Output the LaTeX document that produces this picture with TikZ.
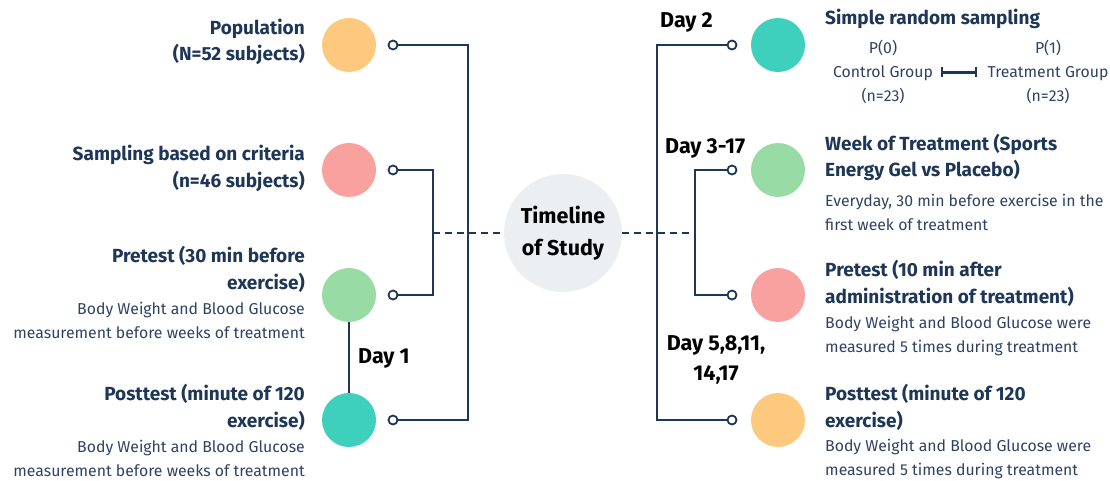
\documentclass[tikz,border=0pt]{standalone}
\usepackage{fontspec}
\setmainfont{Fira Sans}
\usetikzlibrary{arrows.meta}
\definecolor{navy}{HTML}{1E3658}
\definecolor{bodytext}{HTML}{2E4263}
\definecolor{peach}{HTML}{FDC97E}
\definecolor{rose}{HTML}{F9A19F}
\definecolor{mint}{HTML}{99DBA4}
\definecolor{teal}{HTML}{3ECFBD}
\definecolor{mist}{HTML}{ECEFF2}
\tikzset{
  dot/.style={circle,fill=#1,minimum size=54pt,inner sep=0pt},
  ring/.style={circle,draw=navy,fill=white,line width=1.8pt,minimum size=9pt,inner sep=0pt},
  link/.style={draw=navy,line width=2.4pt},
  head/.style={font=\bfseries\fontsize{19}{26.5}\selectfont,text=navy,inner sep=0pt},
  body/.style={font=\fontsize{15.8}{24}\selectfont,text=bodytext,inner sep=0pt},
  daylabel/.style={font=\bfseries\fontsize{21.5}{30}\selectfont,text=black,inner sep=0pt},
}
\begin{document}
\begin{tikzpicture}[x=1pt,y=-1pt]
  \useasboundingbox (0,0) rectangle (1110,481);
  % centre
  \node (tl) at (563,233)[circle,fill=mist,minimum size=118pt,inner sep=0pt]{};
  \node[daylabel,font=\bfseries\fontsize{21.5}{32}\selectfont,align=center,anchor=base] at (563,255) {Timeline\\of Study};
  % left circles and rings
  \node (lc1) at (349,45)[dot=peach]{};
  \node (lc2) at (349,170)[dot=rose]{};
  \node (lc3) at (349,295)[dot=mint]{};
  \node (lc4) at (349,420)[dot=teal]{};
  \foreach \n/\y in {1/45,2/170,3/295,4/420}
    \node (lr\n) at (393,\y)[ring]{};
  % right circles and rings
  \node (rc1) at (778,45)[dot=teal]{};
  \node (rc2) at (778,170)[dot=mint]{};
  \node (rc3) at (778,295)[dot=rose]{};
  \node (rc4) at (778,420)[dot=peach]{};
  \foreach \n/\y in {1/45,2/170,3/295,4/420}
    \node (rr\n) at (732,\y)[ring]{};
  % brackets
  \coordinate (lo1) at (468,45);
  \coordinate (lo2) at (468,420);
  \coordinate (li1) at (433,170);
  \coordinate (li2) at (433,295);
  \coordinate (lm) at (433,233);
  \coordinate (ro1) at (657,45);
  \coordinate (ro2) at (657,420);
  \coordinate (ri1) at (695,170);
  \coordinate (ri2) at (695,295);
  \coordinate (rm) at (695,233);
  \draw[link] (lr1) -- (lo1) -- (lo2) -- (lr4);
  \draw[link] (lr2) -- (li1) -- (li2) -- (lr3);
  \draw[link] (rr1) -- (ro1) -- (ro2) -- (rr4);
  \draw[link] (rr2) -- (ri1) -- (ri2) -- (rr3);
  \draw[link,dash pattern=on 7pt off 5pt] (lm) -- (tl);
  \draw[link,dash pattern=on 7pt off 5pt] (tl) -- (rm);
  \draw[link,line width=2pt] (lc3) -- (lc4);
  % day labels
  \node[daylabel,anchor=base west] at (358,363) {Day 1};
  \node[daylabel,anchor=base west] at (660,28) {Day 2};
  \node[daylabel,anchor=base west] at (665,154) {Day 3-17};
  \node[daylabel,align=center,anchor=base] at (716,380) {Day 5,8,11,\\14,17};
  % left texts
  \node[head,align=right,anchor=base east] at (305,61) {Population\\(N=52 subjects)};
  \node[head,align=right,anchor=base east] at (305,187) {Sampling based on criteria\\(n=46 subjects)};
  \node[head,align=right,anchor=base east] at (305,289) {Pretest (30 min before\\exercise)};
  \node[body,align=right,anchor=base east] at (305,338) {Body Weight and Blood Glucose\\measurement before weeks of treatment};
  \node[head,align=right,anchor=base east] at (305,427) {Posttest (minute of 120\\exercise)};
  \node[body,align=right,anchor=base east] at (305,476) {Body Weight and Blood Glucose\\measurement before weeks of treatment};
  % right texts
  \node[head,anchor=base west] at (825,25) {Simple random sampling};
  \node (pz)[body,align=center,anchor=base] at (883,102) {P(0)\\Control Group\\(n=23)};
  \node (po)[body,align=center,anchor=base] at (1048,102) {P(1)\\Treatment Group\\(n=23)};
  \draw[navy,line width=2.2pt,{Bar[width=10pt]}-{Bar[width=10pt]}] ([xshift=8pt]pz.east) -- ([xshift=-10pt]po.west);
  \node[head,align=left,anchor=base west] at (825,177) {Week of Treatment (Sports\\Energy Gel vs Placebo)};
  \node[body,align=left,anchor=base west] at (825,230) {Everyday, 30 min before exercise in the\\first week of treatment};
  \node[head,align=left,anchor=base west] at (825,303) {Pretest (10 min after\\administration of treatment)};
  \node[body,align=left,anchor=base west] at (825,352) {Body Weight and Blood Glucose were\\measured 5 times during treatment};
  \node[head,align=left,anchor=base west] at (825,427) {Posttest (minute of 120\\exercise)};
  \node[body,align=left,anchor=base west] at (825,475) {Body Weight and Blood Glucose were\\measured 5 times during treatment};
\end{tikzpicture}
\end{document}
